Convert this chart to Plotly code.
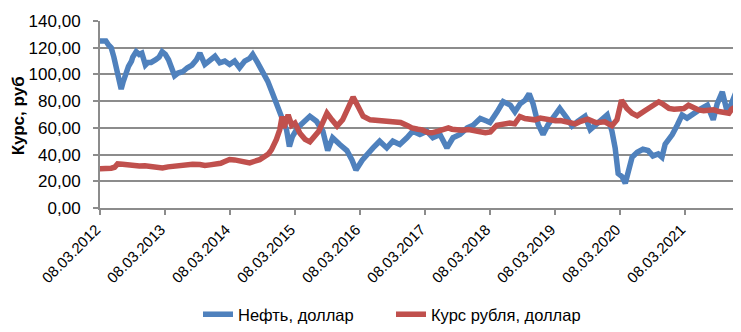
import plotly.graph_objects as go

# ---------------- data ----------------
oil_dates = [
    "2012-03-01", "2012-03-08", "2012-03-25", "2012-04-10", "2012-04-25", "2012-05-10", "2012-05-25",
    "2012-06-10", "2012-06-25", "2012-07-05", "2012-07-15", "2012-07-28", "2012-08-15", "2012-09-01",
    "2012-09-08", "2012-09-27", "2012-10-14", "2012-10-29", "2012-11-18", "2012-12-03", "2012-12-20",
    "2013-01-15", "2013-02-03", "2013-02-20", "2013-03-10", "2013-03-28", "2013-04-13", "2013-05-01",
    "2013-05-20", "2013-06-15", "2013-07-12", "2013-08-07", "2013-09-01", "2013-09-20", "2013-10-18",
    "2013-11-15", "2013-12-14", "2014-01-10", "2014-02-07", "2014-03-06", "2014-04-03", "2014-05-01",
    "2014-05-30", "2014-06-27", "2014-07-14", "2014-08-11", "2014-09-08", "2014-10-06", "2014-11-03",
    "2014-11-25", "2014-12-12", "2014-12-29", "2015-01-20", "2015-02-05", "2015-02-22", "2015-03-23",
    "2015-04-20", "2015-05-31", "2015-07-07", "2015-08-12", "2015-09-08", "2015-10-06", "2015-11-15",
    "2015-12-25", "2016-01-23", "2016-02-14", "2016-03-20", "2016-04-15", "2016-05-20", "2016-06-26",
    "2016-08-05", "2016-09-08", "2016-10-17", "2016-11-26", "2016-12-29", "2017-02-07", "2017-03-18",
    "2017-04-21", "2017-05-31", "2017-07-09", "2017-08-12", "2017-09-20", "2017-10-31", "2017-12-03",
    "2018-01-12", "2018-02-20", "2018-03-08", "2018-04-17", "2018-05-21", "2018-06-30", "2018-07-26",
    "2018-08-24", "2018-09-21", "2018-10-14", "2018-11-05", "2018-12-04", "2018-12-31", "2019-01-28",
    "2019-02-26", "2019-04-04", "2019-05-14", "2019-06-12", "2019-07-15", "2019-08-24", "2019-09-22",
    "2019-10-30", "2019-11-28", "2019-12-26", "2020-01-22", "2020-02-09", "2020-02-26", "2020-03-19",
    "2020-04-06", "2020-04-22", "2020-05-14", "2020-06-12", "2020-07-14", "2020-08-12", "2020-09-08",
    "2020-10-08", "2020-10-29", "2020-11-16", "2020-12-26", "2021-01-24", "2021-02-19", "2021-03-19",
    "2021-04-23", "2021-06-01", "2021-07-11", "2021-08-13", "2021-09-04", "2021-10-03", "2021-11-01",
    "2021-11-16", "2021-12-14", "2022-01-16", "2022-01-25",
]
oil_values = [
    125, 125, 124, 125, 122, 120, 113,
    105, 96, 89, 94, 100, 106, 110,
    113, 117, 115, 116, 107, 109, 109,
    111, 113, 117, 115, 111, 104, 99,
    101, 102, 105, 107, 111, 116, 107.5,
    110, 113.6, 108.7, 110, 107.5, 110, 105,
    110, 112, 115, 108.7, 102.6, 95, 85.5,
    78, 73.5, 66, 58.5, 46, 53.5, 60,
    63, 68.7, 65, 57.5, 43, 52.6, 47.5,
    43, 35.8, 28.5, 35.8, 40, 45, 50,
    45, 50, 47.5, 52.6, 57.5, 55, 57.5,
    52.6, 55, 45, 52.6, 55, 60, 62,
    67, 65, 64, 72, 79.7, 77, 72,
    78, 80.7, 85.6, 78, 62.4, 55, 62.4,
    67.3, 74.6, 67.3, 61.4, 65, 68.7, 58.7,
    63.6, 66, 69.7, 57.5, 45, 25.8, 23.4,
    18.5, 25.8, 38, 41.7, 44, 43, 39,
    40.5, 38, 47.8, 55, 62.4, 69.7, 67.3,
    71, 74, 77, 66, 78, 87, 71,
    76, 83, 96, 99,
]

rub_dates = [
    "2012-03-01", "2012-03-08", "2012-04-10", "2012-05-10", "2012-05-29", "2012-06-15", "2012-07-13",
    "2012-08-10", "2012-09-08", "2012-10-15", "2012-11-15", "2012-12-12", "2013-01-15", "2013-02-22",
    "2013-03-25", "2013-04-25", "2013-05-14", "2013-06-15", "2013-07-07", "2013-08-10", "2013-09-20",
    "2013-10-18", "2013-11-15", "2013-12-14", "2014-01-15", "2014-02-07", "2014-03-06", "2014-04-03",
    "2014-05-01", "2014-05-30", "2014-06-27", "2014-07-25", "2014-08-22", "2014-09-19", "2014-10-10",
    "2014-10-27", "2014-11-10", "2014-11-24", "2014-12-13", "2014-12-26", "2015-01-05", "2015-01-15",
    "2015-01-29", "2015-02-18", "2015-03-08", "2015-04-05", "2015-05-04", "2015-05-31", "2015-06-28",
    "2015-07-20", "2015-08-15", "2015-09-04", "2015-10-02", "2015-10-31", "2015-12-01", "2015-12-25",
    "2016-01-29", "2016-02-26", "2016-03-25", "2016-05-04", "2016-06-30", "2016-08-26", "2016-10-22",
    "2016-12-01", "2016-12-24", "2017-01-27", "2017-02-19", "2017-03-25", "2017-04-15", "2017-05-21",
    "2017-06-10", "2017-07-17", "2017-08-06", "2017-09-12", "2017-10-01", "2017-11-08", "2017-11-26",
    "2018-01-04", "2018-02-10", "2018-03-10", "2018-04-15", "2018-05-14", "2018-06-27", "2018-07-25",
    "2018-08-23", "2018-09-20", "2018-10-19", "2018-11-15", "2018-12-15", "2019-01-15", "2019-02-10",
    "2019-03-10", "2019-04-08", "2019-05-05", "2019-06-04", "2019-07-01", "2019-07-31", "2019-09-08",
    "2019-10-26", "2019-12-01", "2019-12-13", "2020-01-22", "2020-02-19", "2020-03-16", "2020-04-15",
    "2020-05-14", "2020-06-12", "2020-07-27", "2020-09-13", "2020-10-11", "2020-10-30", "2020-12-07",
    "2021-01-05", "2021-02-02", "2021-03-01", "2021-03-27", "2021-04-25", "2021-05-23", "2021-06-20",
    "2021-07-18", "2021-08-15", "2021-09-14", "2021-10-12", "2021-11-09", "2021-11-25", "2021-12-17",
    "2022-01-16", "2022-01-25",
]
rub_values = [
    29.3, 29.3, 29.4, 29.8, 30.5, 33.0, 32.8,
    32.2, 32.0, 31.5, 31.6, 31.0, 30.3, 30.0,
    30.8, 31.3, 31.8, 32.6, 33.0, 32.8, 32.6,
    31.8, 32.3, 32.6, 33.5, 34.8, 36.3, 36.0,
    35.3, 34.5, 33.8, 35.0, 36.2, 38.5, 40.5,
    43.5, 47, 51.4, 58.7, 68.5, 60, 65,
    69.7, 62, 63.6, 56, 51.4, 49.5, 55,
    57.5, 65, 71, 66, 61.4, 66, 73,
    83, 76, 68.7, 66, 65, 64, 64,
    61.5, 60, 59, 58.5, 56.5, 56.3, 57.5,
    58.5, 60, 59, 57.8, 58.2, 58.7, 58.5,
    57.3, 56.3, 57, 62, 63, 63.6, 63,
    68.5, 67, 66, 66, 67.3, 66.5, 65,
    65.3, 65.5, 64.8, 63.6, 63, 64.9, 66.5,
    63.8, 63.6, 64.5, 61.5, 66, 80.7, 74.6,
    71, 69, 73, 77, 79.5, 78.2, 74.6,
    74, 74.6, 74.5, 77, 75, 73.4, 72.8,
    73.4, 73.5, 72.2, 71.5, 71, 74, 75.8,
    79, 79,
]

tick_dates = ["2012-03-08", "2013-03-08", "2014-03-08", "2015-03-08", "2016-03-08",
              "2017-03-08", "2018-03-08", "2019-03-08", "2020-03-08", "2021-03-08"]
tick_labels = ["08.03.2012", "08.03.2013", "08.03.2014", "08.03.2015", "08.03.2016",
               "08.03.2017", "08.03.2018", "08.03.2019", "08.03.2020", "08.03.2021"]

series_names = ["Нефть, доллар", "Курс рубля, доллар"]
y_title = "Курс, руб"

# ---------------- figure ----------------
# The page body keeps its default 8 px margin, so the figure is sized 8 px smaller.
FONT = "Liberation Sans, Arial, sans-serif"
GRID = "#8c8c8c"

fig = go.Figure()
fig.add_trace(go.Scatter(x=oil_dates, y=oil_values, mode="lines", name=series_names[0],
                         line=dict(color="#4F81BD", width=5.5)))
fig.add_trace(go.Scatter(x=rub_dates, y=rub_values, mode="lines", name=series_names[1],
                         line=dict(color="#C0504D", width=5.5)))

fig.update_layout(
    width=733, height=324,
    margin=dict(l=92, r=0, t=13, b=120),
    paper_bgcolor="white", plot_bgcolor="white",
    separators=", ",
    font=dict(family=FONT, size=17, color="#000000"),
    showlegend=True,
    legend=dict(orientation="h", x=(198 - 100) / 641, xanchor="left",
                y=(212 - 321) / 191, yanchor="middle",
                font=dict(size=16.5), itemwidth=30, entrywidth=148,
                bgcolor="rgba(0,0,0,0)"),
    xaxis=dict(type="date", range=["2012-03-08", "2022-01-16"],
               tickvals=tick_dates, ticktext=tick_labels, tickangle=-45,
               tickfont=dict(size=15), ticklabelshift=-4, showgrid=False,
               showline=True, linecolor=GRID, linewidth=2,
               ticks="outside", ticklen=5, tickcolor=GRID, tickwidth=1.5),
    yaxis=dict(range=[0, 140], dtick=20, tickformat=".2f",
               tickfont=dict(size=17), ticklabelstandoff=9,
               showgrid=True, gridcolor=GRID, gridwidth=1.5,
               showline=True, linecolor=GRID, linewidth=2,
               ticks="outside", ticklen=5, tickcolor=GRID, tickwidth=1.5,
               zeroline=False),
    annotations=[dict(text="<b>" + y_title + "</b>", textangle=-90,
                      xref="paper", yref="paper", x=(18 - 100) / 641, y=0.49,
                      xanchor="center", yanchor="middle", showarrow=False,
                      font=dict(size=17))],
)

fig.write_html("out.html")
